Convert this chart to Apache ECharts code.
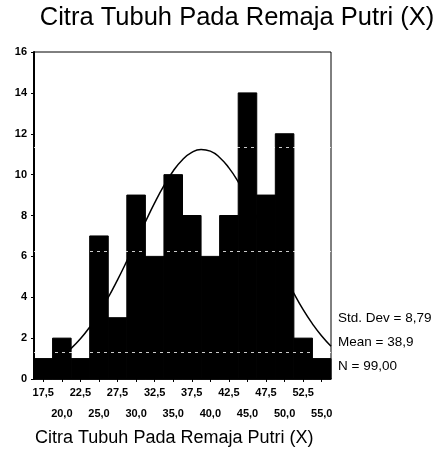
<!DOCTYPE html>
<html>
<head>
<meta charset="utf-8">
<script src="https://cdn.jsdelivr.net/npm/echarts@6/dist/echarts.min.js"></script>
<style>html,body{margin:0;padding:0;background:#fff;}#c{width:436px;height:474px;}</style>
</head>
<body>
<div id="c"></div>
<script>
// Histogram bins (midpoints) and frequencies
var binMids = [17.5, 20, 22.5, 25, 27.5, 30, 32.5, 35, 37.5, 40, 42.5, 45, 47.5, 50, 52.5, 55];
var counts  = [1, 2, 1, 7, 3, 9, 6, 10, 8, 6, 8, 14, 9, 12, 2, 1];
// Normal curve
var curveX = [16.25, 17.5, 18.75, 20, 21.25, 22.5, 23.75, 25, 26.25, 27.5, 28.75, 30, 31.25, 32.5, 33.75, 35, 36.25, 37.5, 38.75, 40, 41.25, 42.5, 43.75, 45, 46.25, 47.5, 48.75, 50, 51.25, 52.5, 53.75, 55, 56.25];
var curveY = [0.41, 0.58, 0.81, 1.11, 1.50, 1.97, 2.54, 3.22, 3.99, 4.85, 5.77, 6.73, 7.69, 8.62, 9.46, 10.18, 10.73, 11.09, 11.23, 11.15, 10.84, 10.33, 9.65, 8.83, 7.92, 6.96, 6.00, 5.06, 4.19, 3.39, 2.70, 2.10, 1.60];
// Tick labels
var upperLabels = [17.5, 22.5, 27.5, 32.5, 37.5, 42.5, 47.5, 52.5];
var lowerLabels = [20, 25, 30, 35, 40, 45, 50, 55];
var yTicks = [0, 2, 4, 6, 8, 10, 12, 14, 16];
var stats = ['Std. Dev = 8,79', 'Mean = 38,9', 'N = 99,00'];
var binWidth = 2.5;
var titleText = 'Citra Tubuh Pada Remaja Putri (X)';

var font = 'Arial, "Liberation Sans", sans-serif';
function fmt(v){ return v.toFixed(1).replace('.', ','); }

var chart = echarts.init(document.getElementById('c'), null, {renderer: 'canvas'});
var barData = binMids.map(function(m, i){ return [m, counts[i]]; });
var curveData = curveX.map(function(x, i){ return [x, curveY[i]]; });

var xCommon = {
  type: 'value', min: binMids[0] - binWidth/2, max: binMids[binMids.length-1] + binWidth/2,
  splitLine: {show: false}, position: 'bottom'
};

chart.setOption({
  animation: false,
  backgroundColor: '#fff',
  title: [{
    text: titleText, left: 237, textAlign: 'center', top: 5, padding: 0,
    textStyle: {fontFamily: font, fontSize: 25.5, fontWeight: 'normal', color: '#000'}
  }, {
    text: titleText, left: 35, top: 429, padding: 0,
    textStyle: {fontFamily: font, fontSize: 18, fontWeight: 'normal', color: '#000'}
  }],
  grid: {left: 34, right: 105, top: 52, bottom: 95, show: true, borderColor: '#000', borderWidth: 1, backgroundColor: 'transparent'},
  xAxis: [
    Object.assign({}, xCommon, {
      axisLine: {show: true, lineStyle: {color: '#000', width: 1.5}},
      axisTick: {show: true, length: 3, customValues: binMids, lineStyle: {color: '#000'}},
      axisLabel: {customValues: upperLabels, formatter: fmt, margin: 8, color: '#000', fontFamily: font, fontSize: 11, fontWeight: 'bold'}
    }),
    Object.assign({}, xCommon, {
      axisLine: {show: false},
      axisTick: {show: false},
      axisLabel: {customValues: lowerLabels, formatter: fmt, margin: 29, color: '#000', fontFamily: font, fontSize: 11, fontWeight: 'bold'}
    })
  ],
  yAxis: {
    type: 'value', min: 0, max: 16, interval: 2,
    splitLine: {show: false},
    axisLine: {show: true, lineStyle: {color: '#000', width: 2}},
    axisTick: {show: true, length: 3, lineStyle: {color: '#000'}},
    axisLabel: {margin: 7, color: '#000', fontFamily: font, fontSize: 11, fontWeight: 'bold', customValues: yTicks}
  },
  series: [{
    type: 'custom',
    xAxisIndex: 0,
    data: barData,
    renderItem: function(params, api){
      var m = api.value(0), v = api.value(1);
      var p0 = api.coord([m - binWidth/2, v]);
      var p1 = api.coord([m + binWidth/2, 0]);
      return {type: 'rect', shape: {x: p0[0], y: p0[1], width: p1[0]-p0[0], height: p1[1]-p0[1]},
        style: {fill: '#000', stroke: '#000', lineWidth: 1}};
    },
    markLine: {
      silent: true, symbol: 'none', label: {show: false},
      lineStyle: {color: '#fff', type: [3, 4], width: 1, opacity: 0.8},
      data: [{yAxis: 1.32}, {yAxis: 6.27}, {yAxis: 11.32}]
    },
    z: 2
  }, {
    type: 'line',
    xAxisIndex: 0,
    data: curveData,
    smooth: true, showSymbol: false,
    lineStyle: {color: '#000', width: 1.5},
    z: 3
  }],
  graphic: stats.map(function(s, i){
    return {type: 'text', left: 338, top: 311 + i*24,
      style: {text: s, fontFamily: font, fontSize: 13.5, fill: '#000'}};
  })
});
</script>
</body>
</html>
